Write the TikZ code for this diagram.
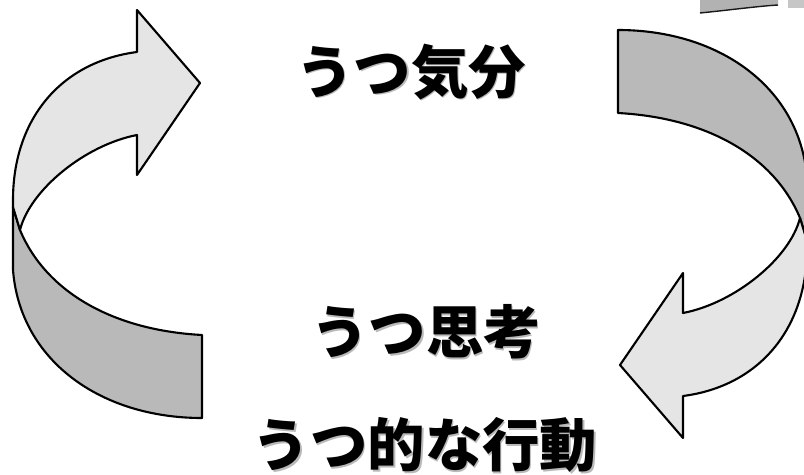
\documentclass[tikz,border=0pt]{standalone}
\usepackage{fontspec}
\newfontfamily\jpfont{Noto Sans CJK JP}
\begin{document}
\begin{tikzpicture}[x=0.03cm, y=-0.03cm,
    edge/.style={line width=1.8pt, line join=round},
    front/.style={edge, fill=gray!20},
    back/.style={edge, fill=gray!55},
    jptext/.style={font=\jpfont\bfseries\fontsize{49}{49}\selectfont, inner sep=0pt},
    halo/.style={jptext, text=gray!55}
]
    \useasboundingbox (0,0) rectangle (804,475);
    \clip (0,0) rectangle (804,475);

    % two twisted ribbon arrows, the second one turned half round
    \foreach \r in {0,180} {
    \begin{scope}[rotate around={\r:(410,224)}]
        \draw[back] (13,207) -- (20,230) .. controls (45,290) and (110,330) .. (202,335)
            -- (202,418) .. controls (100,418) and (20,360) .. (13,270) -- cycle;
        \draw[front] (137,52) .. controls (60,62) and (13,120) .. (13,200) -- (13,207)
            -- (20,230) .. controls (30,190) and (85,145) .. (137,135)
            -- (137,175) -- (200,83) -- (137,10) -- cycle;
    \end{scope}
    }

    % cut-off piece in the corner
    \fill[gray!60] (700,0) -- (700,13) .. controls (730,10) and (760,6) .. (778,5) -- (778,0) -- cycle;
    \draw[line width=1.2pt, gray!20!black] (700,13) .. controls (730,10) and (760,6) .. (778,5);
    \fill[gray!45] (788,0) rectangle (804,8);

    % labels with a soft shadow
    \foreach \n/\x/\y/\t in {mood/411/72/うつ気分, thought/426/332/うつ思考, action/425/445/うつ的な行動} {
        \node[halo] at (\x+1.5,\y+1.5) {\t};
        \node[jptext] (\n) at (\x,\y) {\t};
    }
\end{tikzpicture}
\end{document}
